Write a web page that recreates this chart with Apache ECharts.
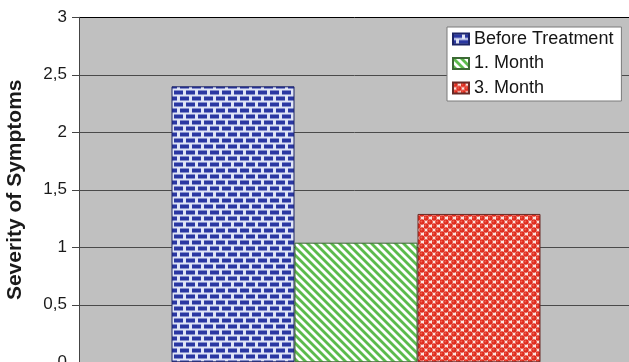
<!DOCTYPE html>
<html>
<head>
<meta charset="utf-8">
<script src="https://cdn.jsdelivr.net/npm/echarts@6/dist/echarts.min.js"></script>
<style>
  html, body { margin: 0; padding: 0; background: #ffffff; }
  #chart { width: 629px; height: 362px; }
</style>
</head>
<body>
<div id="chart"></div>
<script>
// Severity of symptoms over the course of treatment
const categories = ['Severity'];
const seriesNames = ['Before Treatment', '1. Month', '3. Month'];
const beforeTreatment = [2.4];
const month1 = [1.04];
const month3 = [1.29];
const yTicks = [0, 0.5, 1, 1.5, 2, 2.5, 3];

// --- fill patterns for the bars ---
function makeCanvas(w, h) {
  const c = document.createElement('canvas');
  c.width = w; c.height = h;
  return c;
}

function brickPattern() {
  const c = makeCanvas(12, 12);
  const g = c.getContext('2d');
  g.fillStyle = '#dfe4f6';
  g.fillRect(0, 0, 12, 12);
  g.fillStyle = '#2a37a2';
  // first course
  g.fillRect(0, 0.5, 9, 4);
  // second course, offset by half a brick
  g.fillRect(6, 6.5, 6, 4);
  g.fillRect(0, 6.5, 3, 4);
  return c;
}

function stripePattern() {
  const c = makeCanvas(8, 8);
  const g = c.getContext('2d');
  g.fillStyle = '#ffffff';
  g.fillRect(0, 0, 8, 8);
  g.strokeStyle = '#5cbb4c';
  g.lineWidth = 2.8;
  for (let k = -1; k <= 1; k++) {
    g.beginPath();
    g.moveTo(-2, -2 + k * 8);
    g.lineTo(10, 10 + k * 8);
    g.stroke();
  }
  return c;
}

function dotPattern() {
  const c = makeCanvas(8, 8);
  const g = c.getContext('2d');
  g.fillStyle = '#fbe4df';
  g.fillRect(0, 0, 8, 8);
  const dots = [[2, 2], [6, 6], [-2, 6], [10, 6], [6, -2], [2, 10], [6, 10], [-2, -2], [10, -2], [10, 10], [-2, 10]];
  dots.forEach(function (p) {
    g.fillStyle = '#df2c1e';
    g.beginPath();
    g.arc(p[0], p[1], 2.75, 0, Math.PI * 2);
    g.fill();
    g.fillStyle = '#f0604f';
    g.beginPath();
    g.arc(p[0] - 0.6, p[1] - 0.6, 1.0, 0, Math.PI * 2);
    g.fill();
  });
  return c;
}

const fills = [
  { image: brickPattern(), repeat: 'repeat' },
  { image: stripePattern(), repeat: 'repeat' },
  { image: dotPattern(), repeat: 'repeat' }
];
const borders = ['#1c2466', '#3c6a34', '#6a2a26'];
const dataSets = [beforeTreatment, month1, month3];

const chart = echarts.init(document.getElementById('chart'), null, { renderer: 'canvas' });

const font = '"Liberation Sans", Arial, sans-serif';

chart.setOption({
  animation: false,
  backgroundColor: '#ffffff',
  grid: {
    left: 79,
    top: 17.3,
    width: 554,
    height: 345,
    show: true,
    backgroundColor: '#c0c0c0',
    borderWidth: 0,
    containLabel: false,
    outerBoundsMode: 'none'
  },
  legend: {
    data: seriesNames,
    orient: 'vertical',
    left: 447,
    top: 27,
    backgroundColor: '#ffffff',
    borderColor: '#7a7a7a',
    borderWidth: 1,
    borderRadius: 0,
    padding: [3, 8, 4, 5],
    itemWidth: 16,
    itemHeight: 11,
    itemGap: 6.5,
    icon: 'rect',
    textStyle: { fontFamily: font, fontSize: 18, color: '#151515' }
  },
  xAxis: {
    type: 'category',
    data: categories,
    axisLine: { show: false },
    axisTick: { show: false },
    axisLabel: { show: false },
    splitLine: { show: false }
  },
  yAxis: {
    type: 'value',
    min: yTicks[0],
    max: yTicks[yTicks.length - 1],
    interval: 0.5,
    name: 'Severity of Symptoms',
    nameLocation: 'middle',
    nameGap: 53,
    nameTextStyle: { fontFamily: font, fontSize: 21, fontWeight: 'bold', color: '#1a1a1a' },
    axisLine: { show: true, lineStyle: { color: '#444444', width: 1 } },
    axisTick: { show: true, inside: false, length: 7, lineStyle: { color: '#444444' } },
    axisLabel: {
      margin: 12,
      fontFamily: font,
      fontSize: 17,
      color: '#1a1a1a',
      formatter: function (v) { return String(v).replace('.', ','); }
    },
    splitLine: {
      show: true,
      lineStyle: {
        color: ['#4a4a4a', '#4a4a4a', '#4a4a4a', '#4a4a4a', '#4a4a4a', '#4a4a4a', '#000000'],
        width: 1
      }
    }
  },
  series: seriesNames.map(function (name, i) {
    return {
      name: name,
      type: 'bar',
      data: dataSets[i],
      barWidth: 123,
      barGap: '0%',
      itemStyle: {
        color: fills[i],
        borderColor: borders[i],
        borderWidth: 1
      }
    };
  })
});
</script>
</body>
</html>
